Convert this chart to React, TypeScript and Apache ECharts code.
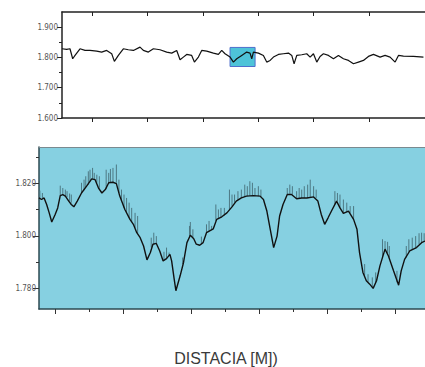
import React, { useEffect, useRef } from "react";
import * as echarts from "echarts";

// ---- Overview profile (top chart) ----
const topDist = [46, 54.4, 60.4, 65.3, 69.5, 78.5, 87.5, 96.5, 108.6, 117.6, 126.6, 135.7, 140.5, 147.7, 156.7, 165.7, 174.8, 186.8, 192.8, 201.8, 210.9, 222.9, 234.9, 244, 253, 259, 265, 271, 280, 284.9, 292.1, 298.1, 307.1, 319.2, 328.2, 334.2, 340.2, 349.3, 355.3, 361.3, 370.3, 379.3, 385.3, 388.4, 391.4, 400.4, 409.4, 415.4, 421.5, 427.5, 436.5, 445.5, 454.6, 460.6, 464.8, 469.6, 478.6, 487.6, 493.7, 499.7, 505.7, 511.7, 517.7, 526.8, 535.8, 544.8, 553.8, 562.9, 571.9, 580.9, 589.9, 598.9, 608, 620, 629, 638, 647.1, 653.1, 662.1, 680.2, 698.2];
const topVal = [1.8286, 1.8264, 1.8286, 1.7956, 1.8066, 1.8286, 1.8231, 1.8231, 1.8209, 1.8176, 1.8231, 1.8121, 1.7868, 1.8066, 1.8286, 1.8253, 1.8231, 1.8341, 1.8231, 1.8176, 1.8286, 1.8253, 1.8176, 1.8143, 1.8231, 1.7923, 1.8011, 1.8099, 1.8066, 1.7846, 1.8011, 1.8231, 1.8209, 1.8143, 1.8099, 1.8231, 1.8121, 1.8011, 1.7846, 1.7956, 1.8066, 1.8176, 1.8143, 1.7956, 1.8176, 1.8143, 1.8066, 1.7846, 1.7901, 1.8011, 1.8099, 1.8121, 1.8143, 1.8066, 1.7791, 1.8066, 1.8088, 1.8121, 1.8011, 1.8121, 1.7846, 1.8033, 1.8121, 1.8066, 1.7956, 1.8066, 1.7956, 1.7901, 1.7791, 1.7846, 1.7901, 1.8033, 1.8099, 1.8011, 1.8066, 1.8011, 1.7846, 1.8066, 1.8044, 1.8033, 1.8011];
const topTicksX = [100, 200, 300, 400, 500, 600];
const topLabelsY = [1.6, 1.7, 1.8, 1.9];
const topMinorY = [1.65, 1.75, 1.85];
const boxX = [349.2, 394.4];
const boxY = [1.77, 1.833];

// ---- Detail profile (bottom chart) ----
const detDist = [350.1, 350.4, 350.7, 351.0, 351.3, 351.6, 352.0, 352.3, 352.6, 352.9, 353.2, 353.6, 353.9, 354.2, 354.6, 355.1, 355.7, 356.3, 356.7, 357.1, 357.5, 357.9, 358.3, 358.8, 359.2, 359.6, 360.2, 360.8, 361.2, 361.6, 362.0, 362.4, 362.8, 363.2, 363.5, 363.9, 364.3, 364.7, 365.1, 365.5, 365.7, 366.0, 366.2, 366.7, 367.1, 367.5, 367.9, 368.3, 368.6, 369.0, 369.4, 369.8, 370.6, 371.0, 371.6, 372.2, 372.8, 373.3, 373.9, 374.5, 375.3, 376.1, 376.5, 376.9, 377.3, 377.7, 378.1, 378.4, 378.8, 379.3, 379.8, 380.4, 381.0, 381.6, 382.4, 382.9, 383.3, 383.7, 384.1, 384.5, 385.1, 385.5, 385.9, 386.5, 387.1, 387.5, 387.8, 388.2, 388.6, 389.0, 389.4, 389.8, 390.2, 390.8, 391.2, 391.8, 392.4, 392.7, 393.1, 393.7, 394.5, 395.1, 395.5];
const detVal = [1.8145, 1.8139, 1.8145, 1.812, 1.8088, 1.8053, 1.8082, 1.8107, 1.8154, 1.8158, 1.8152, 1.8133, 1.812, 1.8111, 1.8133, 1.8164, 1.819, 1.8218, 1.8215, 1.8183, 1.8164, 1.8177, 1.8203, 1.8205, 1.82, 1.8152, 1.8101, 1.8063, 1.8044, 1.8012, 1.7993, 1.7961, 1.7908, 1.7936, 1.7968, 1.7971, 1.7942, 1.7904, 1.7913, 1.7929, 1.7904, 1.7834, 1.779, 1.7847, 1.7898, 1.7974, 1.8002, 1.7989, 1.7968, 1.7964, 1.7974, 1.8012, 1.8027, 1.8063, 1.8073, 1.8088, 1.8111, 1.8133, 1.8145, 1.8152, 1.8154, 1.8152, 1.8139, 1.8095, 1.8025, 1.7955, 1.7999, 1.8076, 1.812, 1.8158, 1.8158, 1.8142, 1.8145, 1.8145, 1.8149, 1.8133, 1.8082, 1.8044, 1.8069, 1.8095, 1.8133, 1.8107, 1.8086, 1.8095, 1.8063, 1.8025, 1.7936, 1.786, 1.7828, 1.7815, 1.7799, 1.7828, 1.7885, 1.7949, 1.7923, 1.7866, 1.7811, 1.7866, 1.791, 1.7942, 1.7955, 1.7974, 1.798];
// noise spikes: [distance, low, high]
const spikes = [
  [350.2, 1.8145, 1.8173], [350.5, 1.8142, 1.8164], [352.6, 1.8154, 1.8192], [352.9, 1.8158, 1.8183],
  [353.2, 1.8152, 1.8177], [353.4, 1.8148, 1.8171], [353.7, 1.8133, 1.8162], [353.9, 1.8127, 1.8158],
  [355.1, 1.8164, 1.8203], [355.4, 1.8174, 1.8215], [355.6, 1.8187, 1.8228], [355.9, 1.8196, 1.8247],
  [356.1, 1.8209, 1.8253], [356.4, 1.8218, 1.826], [356.6, 1.8215, 1.8241], [356.9, 1.8203, 1.8234],
  [357.2, 1.818, 1.8228], [358.0, 1.818, 1.8253], [358.3, 1.8203, 1.8241], [358.5, 1.8205, 1.8256],
  [358.8, 1.8205, 1.826], [359.2, 1.8203, 1.8273], [359.5, 1.8164, 1.8215], [359.8, 1.8133, 1.8177],
  [360.1, 1.8107, 1.8158], [360.4, 1.8088, 1.8145], [360.7, 1.8069, 1.8127], [361.0, 1.8053, 1.8107],
  [361.4, 1.8031, 1.8088], [361.7, 1.801, 1.8076], [363.3, 1.7955, 1.7993], [363.6, 1.7968, 1.8012],
  [363.9, 1.7971, 1.7999], [364.8, 1.7908, 1.7939], [365.1, 1.7913, 1.7955], [365.4, 1.7923, 1.7936],
  [367.0, 1.7892, 1.7917], [367.8, 1.7999, 1.8038], [367.9, 1.8002, 1.8053], [368.2, 1.7993, 1.8025],
  [369.2, 1.7968, 1.7997], [369.8, 1.8012, 1.8044], [370.1, 1.8019, 1.8057], [370.4, 1.8025, 1.8038],
  [370.9, 1.8057, 1.812], [371.2, 1.8065, 1.8101], [371.5, 1.8071, 1.8107], [371.9, 1.8078, 1.8107],
  [372.5, 1.8101, 1.8177], [372.8, 1.8111, 1.8158], [373.1, 1.8127, 1.8158], [373.5, 1.8137, 1.8171],
  [373.9, 1.8145, 1.8177], [374.3, 1.8149, 1.8196], [374.6, 1.8152, 1.819], [374.9, 1.8154, 1.8209],
  [375.2, 1.8154, 1.8203], [375.5, 1.8154, 1.8183], [375.9, 1.8152, 1.819], [376.2, 1.8148, 1.8177],
  [379.3, 1.8158, 1.8183], [379.6, 1.8161, 1.8196], [379.9, 1.8158, 1.819], [380.4, 1.8142, 1.8171],
  [380.7, 1.8145, 1.8183], [381.0, 1.8145, 1.8177], [381.3, 1.8145, 1.819], [381.7, 1.8145, 1.8196],
  [382.0, 1.8148, 1.8215], [382.4, 1.8149, 1.819], [382.7, 1.8145, 1.8177], [384.9, 1.812, 1.8171],
  [385.2, 1.8133, 1.8164], [385.5, 1.8107, 1.8158], [385.9, 1.8086, 1.8139], [386.3, 1.8091, 1.8127],
  [386.7, 1.8088, 1.8114], [387.1, 1.8063, 1.8114], [388.4, 1.7847, 1.7892], [388.8, 1.7824, 1.7853],
  [389.3, 1.7803, 1.7841], [389.7, 1.7822, 1.786], [390.5, 1.7917, 1.7987], [390.8, 1.7949, 1.798],
  [391.1, 1.7934, 1.7977], [391.3, 1.7917, 1.7961], [392.2, 1.7822, 1.7866], [393.3, 1.7917, 1.7961],
  [393.6, 1.7939, 1.7987], [394.0, 1.7946, 1.7993], [394.4, 1.7952, 1.7999], [394.8, 1.7968, 1.801],
  [395.1, 1.7974, 1.8012], [395.4, 1.798, 1.801],
];
const detMajorX = [352, 360, 368, 376, 384, 392];
const detMinorX = [356, 364, 372, 380, 388];
const detLabelsY = [1.78, 1.8, 1.82];
const detMinorY = [1.79, 1.81, 1.83];
const axisTitle = "DISTACIA [M])";

const labelFont = {
  fontFamily: "'Liberation Sans Narrow', 'DejaVu Sans Condensed', sans-serif",
  fontSize: 8,
  color: "#555",
};

export default function App() {
  const ref = useRef<HTMLDivElement>(null);
  useEffect(() => {
    if (!ref.current) return;
    const chart = echarts.init(ref.current, undefined, { renderer: "svg" });
    const dark = "#222";
    const fmt = (v: number) => v.toFixed(3);
    chart.setOption({
      animation: false,
      grid: [
        { left: 62, top: 12, right: 0, height: 106, containLabel: false },
        {
          left: 39, top: 147, right: 0, height: 163, containLabel: false,
          show: true, backgroundColor: "#86d0e1", borderWidth: 0,
        },
      ],
      xAxis: [
        {
          type: "value", gridIndex: 0, position: "bottom", min: 46, max: 701,
          axisLine: { lineStyle: { color: dark, width: 1.5 } },
          axisTick: { customValues: topTicksX, length: 4, lineStyle: { color: dark } },
          axisLabel: { show: false }, splitLine: { show: false },
        },
        {
          type: "value", gridIndex: 0, position: "top", min: 46, max: 701,
          axisLine: { lineStyle: { color: dark, width: 1.5 } },
          axisTick: { customValues: topTicksX, inside: true, length: 4, lineStyle: { color: dark } },
          axisLabel: { show: false }, splitLine: { show: false },
        },
        {
          type: "value", gridIndex: 1, position: "bottom", min: 350.1, max: 395.5,
          axisLine: { lineStyle: { color: "#2d4a52", width: 1.5 } },
          axisTick: { customValues: detMajorX, length: 5, lineStyle: { color: "#333" } },
          axisLabel: { show: false }, splitLine: { show: false },
          name: axisTitle, nameLocation: "middle", nameGap: 41,
          nameTextStyle: {
            fontFamily: "'Liberation Sans', Arial, sans-serif", fontSize: 16,
            color: "#3a3a3a", padding: [0, 12, 0, 0],
          },
        },
        {
          type: "value", gridIndex: 1, position: "bottom", min: 350.1, max: 395.5,
          axisLine: { show: false },
          axisTick: { customValues: detMinorX, length: 3, lineStyle: { color: "#333" } },
          axisLabel: { show: false }, splitLine: { show: false },
        },
        {
          type: "value", gridIndex: 1, position: "top", min: 350.1, max: 395.5,
          axisLine: { lineStyle: { color: "#7a8a90", width: 1 } },
          axisTick: { show: false }, axisLabel: { show: false }, splitLine: { show: false },
        },
      ],
      yAxis: [
        {
          type: "value", gridIndex: 0, position: "left", min: 1.6, max: 1.95,
          axisLine: { show: true, lineStyle: { color: dark, width: 1.5 } },
          axisTick: { customValues: topLabelsY, length: 5, lineStyle: { color: dark } },
          axisLabel: { customValues: topLabelsY, formatter: fmt, margin: 4, ...labelFont },
          splitLine: { show: false },
        },
        {
          type: "value", gridIndex: 0, position: "left", min: 1.6, max: 1.95,
          axisLine: { show: false },
          axisTick: { customValues: topMinorY, length: 3, lineStyle: { color: dark } },
          axisLabel: { show: false }, splitLine: { show: false },
        },
        {
          type: "value", gridIndex: 1, position: "left", min: 1.772, max: 1.834,
          axisLine: { show: true, lineStyle: { color: "#2d4a52", width: 1.5 } },
          axisTick: { customValues: detLabelsY, length: 6, lineStyle: { color: "#333" } },
          axisLabel: { customValues: detLabelsY, formatter: fmt, margin: 3, ...labelFont },
          splitLine: { show: false },
        },
        {
          type: "value", gridIndex: 1, position: "left", min: 1.772, max: 1.834,
          axisLine: { show: false },
          axisTick: { customValues: detMinorY, length: 3, lineStyle: { color: "#333" } },
          axisLabel: { show: false }, splitLine: { show: false },
        },
      ],
      series: [
        {
          type: "line", xAxisIndex: 0, yAxisIndex: 0,
          data: topDist.map((d, i) => [d, topVal[i]]),
          showSymbol: false, lineStyle: { color: "#111", width: 1.2 }, z: 5,
          markArea: {
            silent: true,
            itemStyle: { color: "#4ec3d8", borderColor: "#4f6fcc", borderWidth: 1 },
            data: [[{ xAxis: boxX[0], yAxis: boxY[0] }, { xAxis: boxX[1], yAxis: boxY[1] }]],
          },
        },
        {
          type: "custom", xAxisIndex: 2, yAxisIndex: 2,
          data: spikes,
          encode: { x: 0, y: [1, 2] },
          renderItem: (params: any, api: any) => {
            const p0 = api.coord([api.value(0), api.value(1)]);
            const p1 = api.coord([api.value(0), api.value(2)]);
            return {
              type: "line",
              shape: { x1: p0[0], y1: p0[1], x2: p1[0], y2: p1[1] },
              style: { stroke: "#4d7883", lineWidth: 1 },
            };
          },
          z: 3,
        },
        {
          type: "line", xAxisIndex: 2, yAxisIndex: 2,
          data: detDist.map((d, i) => [d, detVal[i]]),
          showSymbol: false, lineStyle: { color: "#111", width: 1.4 }, z: 5,
        },
      ],
    });
    return () => chart.dispose();
  }, []);
  return (
    <div
      ref={ref}
      style={{ position: "fixed", left: 0, top: 0, width: 425, height: 367, background: "#fff" }}
    />
  );
}
